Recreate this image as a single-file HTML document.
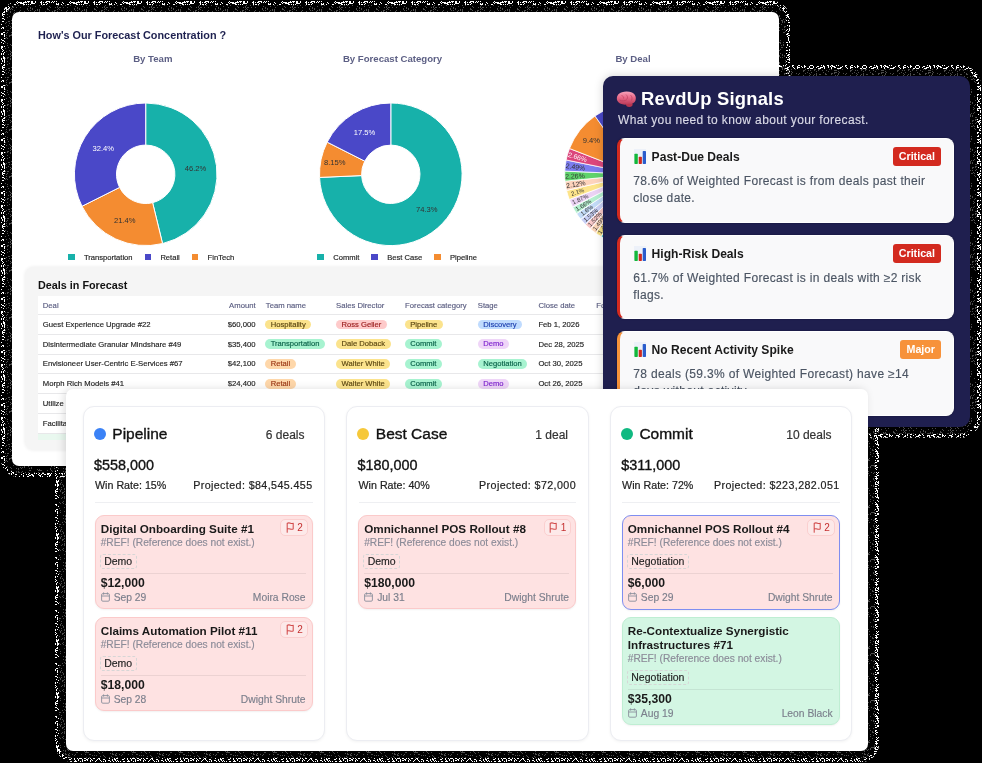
<!DOCTYPE html>
<html><head><meta charset="utf-8"><style>
*{box-sizing:border-box;margin:0;padding:0}
body{width:982px;height:763px;background:#000;position:relative;overflow:hidden;font-family:"Liberation Sans",sans-serif;color:#1f2937}
#c1{position:absolute;left:12px;top:12px;width:767px;height:454px;background:#fff;border-radius:7px;overflow:hidden}
.h1{position:absolute;left:26px;top:17.3px;font-size:10.85px;font-weight:bold;color:#1e2150;letter-spacing:0;white-space:nowrap}
.ctitle{position:absolute;top:41px;transform:translateX(-50%);font-size:9.6px;font-weight:bold;color:#5c5f84;white-space:nowrap}
.leg{position:absolute;top:240px;height:10px;display:flex;align-items:center;font-size:7.6px;color:#222;white-space:nowrap}
.leg i{display:inline-block;width:6.5px;height:6.5px;margin-right:9.3px}
.leg span{margin-right:12px}
#tsec{position:absolute;left:12.5px;top:255px;width:740px;height:183px;background:#f5f5f5;border-radius:9px;box-shadow:0 0 3px 0.5px rgba(0,0,0,0.05)}
.h2{position:absolute;left:13.5px;top:11.6px;font-size:10.8px;font-weight:bold;color:#111;white-space:nowrap}
.tbl{position:absolute;left:13.5px;top:29px;width:720px;height:143.5px;background:#fff;overflow:hidden}
.th,.tr{position:absolute;left:0;width:100%;height:19.8px;border-bottom:0.8px solid #e8e8ea}
.th{height:19px;color:#5a5d80}
.c{position:absolute;top:0;height:100%;display:flex;align-items:center;font-size:7.7px;white-space:nowrap;color:#222}
.th .c{color:#5a5d80}
.amt{justify-content:flex-end}
.pill{display:inline-block;height:9.6px;line-height:9.6px;padding:0 5.5px;border-radius:5px;font-size:7.6px}
#sig{position:absolute;left:603px;top:76px;width:367px;height:350.8px;background:#1f1f4f;border-radius:10px;box-shadow:0 0 10px rgba(0,0,0,0.18)}
.sh{position:absolute;left:38px;top:12px;font-size:18.4px;font-weight:bold;color:#fff;white-space:nowrap;letter-spacing:0.2px}
.ss{position:absolute;left:15px;top:37px;font-size:12px;color:#d9d9e6;white-space:nowrap;letter-spacing:0.38px}
.sc{position:absolute;left:14px;width:337px;background:#f9f9fa;border-radius:8px;border:1px solid #fff;border-left:3.5px solid;box-shadow:0 0 1.5px rgba(0,0,20,0.5)}
.st{position:absolute;left:13.3px;top:10.8px;display:flex;align-items:center;font-size:12.1px;font-weight:bold;color:#1a1a1a;white-space:nowrap}
.st .ico{margin-right:5.3px;margin-left:0.5px;position:relative;top:-1px}
.badge{position:absolute;right:12px;top:8.4px;height:19px;line-height:19px;padding:0 6px;border-radius:3px;color:#fff;font-size:10.7px;font-weight:bold}
.sb{position:absolute;left:13.3px;top:34px;width:300px;font-size:12px;line-height:16.7px;color:#4b5563;letter-spacing:0.33px}
#kan{position:absolute;left:66px;top:389px;width:802px;height:362px;background:#fff;border-radius:7px;box-shadow:-2px 0 8px rgba(0,0,0,0.13)}
.col{position:absolute;top:16.6px;width:242.5px;height:335px;background:#fff;border:1px solid #ecedf2;border-radius:11px;box-shadow:0 1px 3px rgba(0,0,0,0.05)}
.dot{position:absolute;left:10.1px;top:21.4px;width:12px;height:12px;border-radius:50%}
.cn{position:absolute;left:28.8px;top:18.8px;font-size:15.5px;color:#111;white-space:nowrap}
.cc{position:absolute;right:19.5px;top:21px;font-size:12px;color:#333;white-space:nowrap}
.ct{position:absolute;left:10.6px;top:50.7px;font-size:14.4px;color:#111;white-space:nowrap;font-weight:500}
.cw{position:absolute;left:11.5px;right:11.5px;top:72.2px;display:flex;justify-content:space-between;font-size:10.7px;color:#222;white-space:nowrap}
.cl{position:absolute;left:11.5px;right:11.5px;top:95px;height:1px;background:#eeeff2}
.deal{position:absolute;left:11.2px;right:11.5px;border:1px solid;border-radius:9px;box-shadow:0 1px 2px rgba(0,0,0,0.06);padding:5.6px 6px 0 5px}
.dt{width:175px;font-size:11.7px;font-weight:bold;color:#1a1a1a;line-height:14px}
.flag{position:absolute;right:3.8px;top:3px;height:16.6px;padding:0 4px 0 4.5px;border:1px solid #fbcfcf;border-radius:5px;background:#fde9e9;display:flex;align-items:center;font-size:10px;color:#c53030}
.dref{font-size:10.2px;color:#8b8b98;white-space:nowrap;line-height:13px;margin-top:0.5px}
.tag{display:block;width:fit-content;margin-top:5px;margin-left:-1px;height:15px;line-height:13px;padding:0 3.5px;border:1px dashed #d6d6d6;border-radius:3px;font-size:10.5px;color:#222}
.dline{height:1px;background:rgba(0,0,0,0.07);margin-top:3.6px}
.damt{font-size:12.2px;font-weight:bold;color:#1a1a1a;line-height:15px;margin-top:1.7px}
.dfoot{display:flex;justify-content:space-between;font-size:10.3px;color:#7b7f8c;white-space:nowrap;line-height:13px;margin-top:0.5px}
.cw span+span{letter-spacing:0.4px}
.cn,.ct{-webkit-text-stroke:0.35px currentColor}
.cw,.cc{-webkit-text-stroke:0.2px currentColor}
#c1,#sig,#kan{will-change:transform}
.sb,.ss,.dref,.dfoot,.c,.leg,.tag{-webkit-text-stroke:0.15px currentColor}

</style></head><body>
<svg width="982" height="763" style="position:absolute;left:0;top:0"><defs><pattern id="pa" width="53" height="53" patternUnits="userSpaceOnUse"><path d="M1 0h1v1h-1zM3 0h1v1h-1zM6 0h1v1h-1zM8 0h1v1h-1zM10 0h1v1h-1zM11 0h1v1h-1zM14 0h1v1h-1zM15 0h1v1h-1zM21 0h1v1h-1zM24 0h1v1h-1zM25 0h1v1h-1zM28 0h1v1h-1zM33 0h1v1h-1zM34 0h1v1h-1zM35 0h1v1h-1zM44 0h1v1h-1zM51 0h1v1h-1zM1 1h1v1h-1zM3 1h1v1h-1zM17 1h1v1h-1zM25 1h1v1h-1zM27 1h1v1h-1zM28 1h1v1h-1zM29 1h1v1h-1zM31 1h1v1h-1zM32 1h1v1h-1zM35 1h1v1h-1zM41 1h1v1h-1zM46 1h1v1h-1zM47 1h1v1h-1zM48 1h1v1h-1zM49 1h1v1h-1zM52 1h1v1h-1zM0 2h1v1h-1zM9 2h1v1h-1zM16 2h1v1h-1zM18 2h1v1h-1zM19 2h1v1h-1zM20 2h1v1h-1zM21 2h1v1h-1zM23 2h1v1h-1zM24 2h1v1h-1zM25 2h1v1h-1zM26 2h1v1h-1zM28 2h1v1h-1zM31 2h1v1h-1zM32 2h1v1h-1zM35 2h1v1h-1zM40 2h1v1h-1zM41 2h1v1h-1zM43 2h1v1h-1zM45 2h1v1h-1zM46 2h1v1h-1zM49 2h1v1h-1zM51 2h1v1h-1zM3 3h1v1h-1zM5 3h1v1h-1zM10 3h1v1h-1zM17 3h1v1h-1zM20 3h1v1h-1zM21 3h1v1h-1zM22 3h1v1h-1zM23 3h1v1h-1zM31 3h1v1h-1zM32 3h1v1h-1zM33 3h1v1h-1zM34 3h1v1h-1zM41 3h1v1h-1zM47 3h1v1h-1zM3 4h1v1h-1zM4 4h1v1h-1zM5 4h1v1h-1zM8 4h1v1h-1zM14 4h1v1h-1zM15 4h1v1h-1zM23 4h1v1h-1zM24 4h1v1h-1zM26 4h1v1h-1zM28 4h1v1h-1zM30 4h1v1h-1zM41 4h1v1h-1zM43 4h1v1h-1zM44 4h1v1h-1zM46 4h1v1h-1zM1 5h1v1h-1zM3 5h1v1h-1zM4 5h1v1h-1zM22 5h1v1h-1zM26 5h1v1h-1zM27 5h1v1h-1zM29 5h1v1h-1zM30 5h1v1h-1zM31 5h1v1h-1zM35 5h1v1h-1zM38 5h1v1h-1zM41 5h1v1h-1zM47 5h1v1h-1zM51 5h1v1h-1zM1 6h1v1h-1zM4 6h1v1h-1zM8 6h1v1h-1zM12 6h1v1h-1zM13 6h1v1h-1zM14 6h1v1h-1zM16 6h1v1h-1zM17 6h1v1h-1zM21 6h1v1h-1zM22 6h1v1h-1zM26 6h1v1h-1zM27 6h1v1h-1zM30 6h1v1h-1zM34 6h1v1h-1zM36 6h1v1h-1zM42 6h1v1h-1zM43 6h1v1h-1zM45 6h1v1h-1zM46 6h1v1h-1zM47 6h1v1h-1zM48 6h1v1h-1zM49 6h1v1h-1zM2 7h1v1h-1zM4 7h1v1h-1zM5 7h1v1h-1zM6 7h1v1h-1zM9 7h1v1h-1zM12 7h1v1h-1zM27 7h1v1h-1zM28 7h1v1h-1zM29 7h1v1h-1zM31 7h1v1h-1zM32 7h1v1h-1zM33 7h1v1h-1zM38 7h1v1h-1zM41 7h1v1h-1zM43 7h1v1h-1zM47 7h1v1h-1zM51 7h1v1h-1zM2 8h1v1h-1zM4 8h1v1h-1zM5 8h1v1h-1zM6 8h1v1h-1zM8 8h1v1h-1zM9 8h1v1h-1zM11 8h1v1h-1zM21 8h1v1h-1zM24 8h1v1h-1zM30 8h1v1h-1zM40 8h1v1h-1zM41 8h1v1h-1zM42 8h1v1h-1zM44 8h1v1h-1zM51 8h1v1h-1zM4 9h1v1h-1zM6 9h1v1h-1zM7 9h1v1h-1zM8 9h1v1h-1zM10 9h1v1h-1zM20 9h1v1h-1zM21 9h1v1h-1zM22 9h1v1h-1zM26 9h1v1h-1zM27 9h1v1h-1zM28 9h1v1h-1zM36 9h1v1h-1zM38 9h1v1h-1zM41 9h1v1h-1zM46 9h1v1h-1zM47 9h1v1h-1zM49 9h1v1h-1zM51 9h1v1h-1zM1 10h1v1h-1zM6 10h1v1h-1zM9 10h1v1h-1zM10 10h1v1h-1zM14 10h1v1h-1zM18 10h1v1h-1zM21 10h1v1h-1zM32 10h1v1h-1zM33 10h1v1h-1zM34 10h1v1h-1zM38 10h1v1h-1zM39 10h1v1h-1zM41 10h1v1h-1zM51 10h1v1h-1zM4 11h1v1h-1zM6 11h1v1h-1zM12 11h1v1h-1zM17 11h1v1h-1zM18 11h1v1h-1zM19 11h1v1h-1zM22 11h1v1h-1zM26 11h1v1h-1zM27 11h1v1h-1zM28 11h1v1h-1zM30 11h1v1h-1zM31 11h1v1h-1zM32 11h1v1h-1zM41 11h1v1h-1zM42 11h1v1h-1zM44 11h1v1h-1zM48 11h1v1h-1zM49 11h1v1h-1zM50 11h1v1h-1zM3 12h1v1h-1zM4 12h1v1h-1zM9 12h1v1h-1zM15 12h1v1h-1zM16 12h1v1h-1zM17 12h1v1h-1zM26 12h1v1h-1zM28 12h1v1h-1zM32 12h1v1h-1zM33 12h1v1h-1zM36 12h1v1h-1zM37 12h1v1h-1zM41 12h1v1h-1zM43 12h1v1h-1zM50 12h1v1h-1zM51 12h1v1h-1zM2 13h1v1h-1zM6 13h1v1h-1zM9 13h1v1h-1zM10 13h1v1h-1zM14 13h1v1h-1zM18 13h1v1h-1zM22 13h1v1h-1zM23 13h1v1h-1zM28 13h1v1h-1zM29 13h1v1h-1zM33 13h1v1h-1zM35 13h1v1h-1zM37 13h1v1h-1zM38 13h1v1h-1zM39 13h1v1h-1zM47 13h1v1h-1zM50 13h1v1h-1zM2 14h1v1h-1zM3 14h1v1h-1zM4 14h1v1h-1zM7 14h1v1h-1zM9 14h1v1h-1zM14 14h1v1h-1zM18 14h1v1h-1zM21 14h1v1h-1zM25 14h1v1h-1zM26 14h1v1h-1zM27 14h1v1h-1zM29 14h1v1h-1zM33 14h1v1h-1zM36 14h1v1h-1zM39 14h1v1h-1zM40 14h1v1h-1zM45 14h1v1h-1zM46 14h1v1h-1zM51 14h1v1h-1zM2 15h1v1h-1zM12 15h1v1h-1zM13 15h1v1h-1zM15 15h1v1h-1zM16 15h1v1h-1zM17 15h1v1h-1zM23 15h1v1h-1zM24 15h1v1h-1zM25 15h1v1h-1zM29 15h1v1h-1zM36 15h1v1h-1zM42 15h1v1h-1zM43 15h1v1h-1zM44 15h1v1h-1zM45 15h1v1h-1zM52 15h1v1h-1zM3 16h1v1h-1zM8 16h1v1h-1zM10 16h1v1h-1zM11 16h1v1h-1zM18 16h1v1h-1zM21 16h1v1h-1zM24 16h1v1h-1zM26 16h1v1h-1zM27 16h1v1h-1zM28 16h1v1h-1zM31 16h1v1h-1zM32 16h1v1h-1zM35 16h1v1h-1zM37 16h1v1h-1zM40 16h1v1h-1zM41 16h1v1h-1zM45 16h1v1h-1zM46 16h1v1h-1zM6 17h1v1h-1zM8 17h1v1h-1zM9 17h1v1h-1zM16 17h1v1h-1zM17 17h1v1h-1zM21 17h1v1h-1zM25 17h1v1h-1zM29 17h1v1h-1zM33 17h1v1h-1zM34 17h1v1h-1zM38 17h1v1h-1zM44 17h1v1h-1zM46 17h1v1h-1zM50 17h1v1h-1zM51 17h1v1h-1zM2 18h1v1h-1zM3 18h1v1h-1zM6 18h1v1h-1zM9 18h1v1h-1zM11 18h1v1h-1zM22 18h1v1h-1zM25 18h1v1h-1zM29 18h1v1h-1zM31 18h1v1h-1zM32 18h1v1h-1zM34 18h1v1h-1zM37 18h1v1h-1zM39 18h1v1h-1zM43 18h1v1h-1zM47 18h1v1h-1zM52 18h1v1h-1zM4 19h1v1h-1zM7 19h1v1h-1zM10 19h1v1h-1zM12 19h1v1h-1zM14 19h1v1h-1zM17 19h1v1h-1zM18 19h1v1h-1zM21 19h1v1h-1zM22 19h1v1h-1zM23 19h1v1h-1zM27 19h1v1h-1zM29 19h1v1h-1zM37 19h1v1h-1zM42 19h1v1h-1zM48 19h1v1h-1zM50 19h1v1h-1zM52 19h1v1h-1zM5 20h1v1h-1zM6 20h1v1h-1zM7 20h1v1h-1zM12 20h1v1h-1zM13 20h1v1h-1zM15 20h1v1h-1zM16 20h1v1h-1zM18 20h1v1h-1zM20 20h1v1h-1zM23 20h1v1h-1zM26 20h1v1h-1zM28 20h1v1h-1zM29 20h1v1h-1zM30 20h1v1h-1zM35 20h1v1h-1zM36 20h1v1h-1zM44 20h1v1h-1zM46 20h1v1h-1zM49 20h1v1h-1zM50 20h1v1h-1zM52 20h1v1h-1zM2 21h1v1h-1zM3 21h1v1h-1zM8 21h1v1h-1zM11 21h1v1h-1zM15 21h1v1h-1zM21 21h1v1h-1zM22 21h1v1h-1zM23 21h1v1h-1zM24 21h1v1h-1zM30 21h1v1h-1zM35 21h1v1h-1zM38 21h1v1h-1zM40 21h1v1h-1zM41 21h1v1h-1zM42 21h1v1h-1zM49 21h1v1h-1zM10 22h1v1h-1zM12 22h1v1h-1zM14 22h1v1h-1zM15 22h1v1h-1zM16 22h1v1h-1zM19 22h1v1h-1zM20 22h1v1h-1zM21 22h1v1h-1zM26 22h1v1h-1zM32 22h1v1h-1zM36 22h1v1h-1zM37 22h1v1h-1zM38 22h1v1h-1zM39 22h1v1h-1zM46 22h1v1h-1zM47 22h1v1h-1zM49 22h1v1h-1zM52 22h1v1h-1zM0 23h1v1h-1zM9 23h1v1h-1zM16 23h1v1h-1zM18 23h1v1h-1zM20 23h1v1h-1zM21 23h1v1h-1zM22 23h1v1h-1zM25 23h1v1h-1zM29 23h1v1h-1zM33 23h1v1h-1zM36 23h1v1h-1zM39 23h1v1h-1zM41 23h1v1h-1zM50 23h1v1h-1zM52 23h1v1h-1zM0 24h1v1h-1zM1 24h1v1h-1zM6 24h1v1h-1zM14 24h1v1h-1zM18 24h1v1h-1zM22 24h1v1h-1zM25 24h1v1h-1zM26 24h1v1h-1zM30 24h1v1h-1zM31 24h1v1h-1zM32 24h1v1h-1zM35 24h1v1h-1zM37 24h1v1h-1zM40 24h1v1h-1zM42 24h1v1h-1zM48 24h1v1h-1zM50 24h1v1h-1zM51 24h1v1h-1zM0 25h1v1h-1zM7 25h1v1h-1zM16 25h1v1h-1zM27 25h1v1h-1zM32 25h1v1h-1zM39 25h1v1h-1zM45 25h1v1h-1zM47 25h1v1h-1zM51 25h1v1h-1zM8 26h1v1h-1zM12 26h1v1h-1zM15 26h1v1h-1zM16 26h1v1h-1zM18 26h1v1h-1zM23 26h1v1h-1zM24 26h1v1h-1zM28 26h1v1h-1zM31 26h1v1h-1zM32 26h1v1h-1zM38 26h1v1h-1zM47 26h1v1h-1zM51 26h1v1h-1zM0 27h1v1h-1zM2 27h1v1h-1zM3 27h1v1h-1zM6 27h1v1h-1zM15 27h1v1h-1zM19 27h1v1h-1zM22 27h1v1h-1zM23 27h1v1h-1zM26 27h1v1h-1zM27 27h1v1h-1zM28 27h1v1h-1zM29 27h1v1h-1zM32 27h1v1h-1zM35 27h1v1h-1zM43 27h1v1h-1zM50 27h1v1h-1zM51 27h1v1h-1zM52 27h1v1h-1zM1 28h1v1h-1zM3 28h1v1h-1zM8 28h1v1h-1zM17 28h1v1h-1zM20 28h1v1h-1zM29 28h1v1h-1zM38 28h1v1h-1zM47 28h1v1h-1zM5 29h1v1h-1zM9 29h1v1h-1zM11 29h1v1h-1zM12 29h1v1h-1zM24 29h1v1h-1zM28 29h1v1h-1zM29 29h1v1h-1zM30 29h1v1h-1zM38 29h1v1h-1zM45 29h1v1h-1zM47 29h1v1h-1zM48 29h1v1h-1zM0 30h1v1h-1zM7 30h1v1h-1zM9 30h1v1h-1zM10 30h1v1h-1zM11 30h1v1h-1zM12 30h1v1h-1zM14 30h1v1h-1zM16 30h1v1h-1zM18 30h1v1h-1zM19 30h1v1h-1zM21 30h1v1h-1zM23 30h1v1h-1zM24 30h1v1h-1zM29 30h1v1h-1zM34 30h1v1h-1zM37 30h1v1h-1zM38 30h1v1h-1zM41 30h1v1h-1zM44 30h1v1h-1zM47 30h1v1h-1zM52 30h1v1h-1zM11 31h1v1h-1zM29 31h1v1h-1zM30 31h1v1h-1zM35 31h1v1h-1zM40 31h1v1h-1zM46 31h1v1h-1zM49 31h1v1h-1zM52 31h1v1h-1zM3 32h1v1h-1zM4 32h1v1h-1zM8 32h1v1h-1zM11 32h1v1h-1zM18 32h1v1h-1zM19 32h1v1h-1zM20 32h1v1h-1zM26 32h1v1h-1zM27 32h1v1h-1zM30 32h1v1h-1zM33 32h1v1h-1zM37 32h1v1h-1zM38 32h1v1h-1zM43 32h1v1h-1zM50 32h1v1h-1zM51 32h1v1h-1zM52 32h1v1h-1zM0 33h1v1h-1zM1 33h1v1h-1zM2 33h1v1h-1zM8 33h1v1h-1zM11 33h1v1h-1zM13 33h1v1h-1zM20 33h1v1h-1zM23 33h1v1h-1zM24 33h1v1h-1zM25 33h1v1h-1zM30 33h1v1h-1zM35 33h1v1h-1zM36 33h1v1h-1zM43 33h1v1h-1zM45 33h1v1h-1zM46 33h1v1h-1zM48 33h1v1h-1zM49 33h1v1h-1zM50 33h1v1h-1zM52 33h1v1h-1zM1 34h1v1h-1zM2 34h1v1h-1zM4 34h1v1h-1zM8 34h1v1h-1zM10 34h1v1h-1zM19 34h1v1h-1zM20 34h1v1h-1zM21 34h1v1h-1zM24 34h1v1h-1zM26 34h1v1h-1zM28 34h1v1h-1zM29 34h1v1h-1zM32 34h1v1h-1zM36 34h1v1h-1zM38 34h1v1h-1zM41 34h1v1h-1zM44 34h1v1h-1zM45 34h1v1h-1zM50 34h1v1h-1zM0 35h1v1h-1zM4 35h1v1h-1zM7 35h1v1h-1zM8 35h1v1h-1zM11 35h1v1h-1zM14 35h1v1h-1zM16 35h1v1h-1zM17 35h1v1h-1zM20 35h1v1h-1zM21 35h1v1h-1zM22 35h1v1h-1zM25 35h1v1h-1zM26 35h1v1h-1zM31 35h1v1h-1zM32 35h1v1h-1zM36 35h1v1h-1zM42 35h1v1h-1zM46 35h1v1h-1zM47 35h1v1h-1zM50 35h1v1h-1zM0 36h1v1h-1zM4 36h1v1h-1zM12 36h1v1h-1zM19 36h1v1h-1zM21 36h1v1h-1zM22 36h1v1h-1zM23 36h1v1h-1zM24 36h1v1h-1zM26 36h1v1h-1zM27 36h1v1h-1zM29 36h1v1h-1zM30 36h1v1h-1zM35 36h1v1h-1zM38 36h1v1h-1zM39 36h1v1h-1zM42 36h1v1h-1zM43 36h1v1h-1zM45 36h1v1h-1zM48 36h1v1h-1zM51 36h1v1h-1zM9 37h1v1h-1zM17 37h1v1h-1zM21 37h1v1h-1zM26 37h1v1h-1zM29 37h1v1h-1zM30 37h1v1h-1zM38 37h1v1h-1zM40 37h1v1h-1zM42 37h1v1h-1zM46 37h1v1h-1zM0 38h1v1h-1zM4 38h1v1h-1zM7 38h1v1h-1zM8 38h1v1h-1zM9 38h1v1h-1zM13 38h1v1h-1zM14 38h1v1h-1zM20 38h1v1h-1zM27 38h1v1h-1zM28 38h1v1h-1zM32 38h1v1h-1zM35 38h1v1h-1zM42 38h1v1h-1zM43 38h1v1h-1zM46 38h1v1h-1zM50 38h1v1h-1zM51 38h1v1h-1zM1 39h1v1h-1zM16 39h1v1h-1zM18 39h1v1h-1zM41 39h1v1h-1zM43 39h1v1h-1zM46 39h1v1h-1zM52 39h1v1h-1zM2 40h1v1h-1zM3 40h1v1h-1zM20 40h1v1h-1zM34 40h1v1h-1zM39 40h1v1h-1zM46 40h1v1h-1zM50 40h1v1h-1zM51 40h1v1h-1zM4 41h1v1h-1zM9 41h1v1h-1zM14 41h1v1h-1zM17 41h1v1h-1zM23 41h1v1h-1zM24 41h1v1h-1zM26 41h1v1h-1zM27 41h1v1h-1zM28 41h1v1h-1zM33 41h1v1h-1zM34 41h1v1h-1zM39 41h1v1h-1zM40 41h1v1h-1zM41 41h1v1h-1zM47 41h1v1h-1zM0 42h1v1h-1zM1 42h1v1h-1zM12 42h1v1h-1zM15 42h1v1h-1zM20 42h1v1h-1zM21 42h1v1h-1zM23 42h1v1h-1zM27 42h1v1h-1zM31 42h1v1h-1zM32 42h1v1h-1zM35 42h1v1h-1zM36 42h1v1h-1zM38 42h1v1h-1zM39 42h1v1h-1zM42 42h1v1h-1zM44 42h1v1h-1zM45 42h1v1h-1zM47 42h1v1h-1zM51 42h1v1h-1zM3 43h1v1h-1zM6 43h1v1h-1zM8 43h1v1h-1zM10 43h1v1h-1zM14 43h1v1h-1zM16 43h1v1h-1zM18 43h1v1h-1zM21 43h1v1h-1zM28 43h1v1h-1zM29 43h1v1h-1zM33 43h1v1h-1zM38 43h1v1h-1zM40 43h1v1h-1zM41 43h1v1h-1zM49 43h1v1h-1zM50 43h1v1h-1zM51 43h1v1h-1zM5 44h1v1h-1zM9 44h1v1h-1zM10 44h1v1h-1zM14 44h1v1h-1zM15 44h1v1h-1zM16 44h1v1h-1zM17 44h1v1h-1zM20 44h1v1h-1zM23 44h1v1h-1zM27 44h1v1h-1zM31 44h1v1h-1zM35 44h1v1h-1zM38 44h1v1h-1zM39 44h1v1h-1zM40 44h1v1h-1zM42 44h1v1h-1zM45 44h1v1h-1zM51 44h1v1h-1zM7 45h1v1h-1zM12 45h1v1h-1zM14 45h1v1h-1zM17 45h1v1h-1zM22 45h1v1h-1zM23 45h1v1h-1zM26 45h1v1h-1zM28 45h1v1h-1zM31 45h1v1h-1zM32 45h1v1h-1zM39 45h1v1h-1zM45 45h1v1h-1zM51 45h1v1h-1zM1 46h1v1h-1zM2 46h1v1h-1zM4 46h1v1h-1zM7 46h1v1h-1zM11 46h1v1h-1zM12 46h1v1h-1zM13 46h1v1h-1zM16 46h1v1h-1zM20 46h1v1h-1zM23 46h1v1h-1zM25 46h1v1h-1zM31 46h1v1h-1zM32 46h1v1h-1zM33 46h1v1h-1zM34 46h1v1h-1zM38 46h1v1h-1zM42 46h1v1h-1zM47 46h1v1h-1zM1 47h1v1h-1zM2 47h1v1h-1zM11 47h1v1h-1zM14 47h1v1h-1zM16 47h1v1h-1zM19 47h1v1h-1zM20 47h1v1h-1zM22 47h1v1h-1zM24 47h1v1h-1zM38 47h1v1h-1zM43 47h1v1h-1zM44 47h1v1h-1zM1 48h1v1h-1zM12 48h1v1h-1zM13 48h1v1h-1zM16 48h1v1h-1zM24 48h1v1h-1zM25 48h1v1h-1zM28 48h1v1h-1zM30 48h1v1h-1zM31 48h1v1h-1zM33 48h1v1h-1zM36 48h1v1h-1zM38 48h1v1h-1zM41 48h1v1h-1zM43 48h1v1h-1zM49 48h1v1h-1zM52 48h1v1h-1zM2 49h1v1h-1zM6 49h1v1h-1zM8 49h1v1h-1zM9 49h1v1h-1zM11 49h1v1h-1zM13 49h1v1h-1zM23 49h1v1h-1zM29 49h1v1h-1zM34 49h1v1h-1zM36 49h1v1h-1zM39 49h1v1h-1zM42 49h1v1h-1zM43 49h1v1h-1zM47 49h1v1h-1zM48 49h1v1h-1zM49 49h1v1h-1zM51 49h1v1h-1zM3 50h1v1h-1zM9 50h1v1h-1zM11 50h1v1h-1zM15 50h1v1h-1zM16 50h1v1h-1zM21 50h1v1h-1zM26 50h1v1h-1zM28 50h1v1h-1zM31 50h1v1h-1zM32 50h1v1h-1zM38 50h1v1h-1zM41 50h1v1h-1zM44 50h1v1h-1zM45 50h1v1h-1zM47 50h1v1h-1zM48 50h1v1h-1zM50 50h1v1h-1zM2 51h1v1h-1zM23 51h1v1h-1zM29 51h1v1h-1zM30 51h1v1h-1zM32 51h1v1h-1zM33 51h1v1h-1zM39 51h1v1h-1zM40 51h1v1h-1zM49 51h1v1h-1zM50 51h1v1h-1zM4 52h1v1h-1zM7 52h1v1h-1zM8 52h1v1h-1zM9 52h1v1h-1zM10 52h1v1h-1zM11 52h1v1h-1zM13 52h1v1h-1zM15 52h1v1h-1zM19 52h1v1h-1zM23 52h1v1h-1zM27 52h1v1h-1zM28 52h1v1h-1zM33 52h1v1h-1zM40 52h1v1h-1zM42 52h1v1h-1zM47 52h1v1h-1zM49 52h1v1h-1z" fill="#fff"/></pattern><pattern id="pb" width="47" height="47" patternUnits="userSpaceOnUse"><path d="M0 0h1v1h-1zM4 0h1v1h-1zM8 0h1v1h-1zM29 0h1v1h-1zM30 0h1v1h-1zM38 0h1v1h-1zM39 0h1v1h-1zM40 0h1v1h-1zM41 0h1v1h-1zM5 1h1v1h-1zM16 1h1v1h-1zM18 1h1v1h-1zM22 1h1v1h-1zM18 2h1v1h-1zM19 2h1v1h-1zM21 2h1v1h-1zM25 2h1v1h-1zM28 2h1v1h-1zM34 2h1v1h-1zM38 2h1v1h-1zM42 2h1v1h-1zM43 2h1v1h-1zM0 3h1v1h-1zM2 3h1v1h-1zM9 3h1v1h-1zM21 3h1v1h-1zM22 3h1v1h-1zM27 3h1v1h-1zM45 3h1v1h-1zM6 4h1v1h-1zM10 4h1v1h-1zM17 4h1v1h-1zM11 5h1v1h-1zM15 5h1v1h-1zM18 5h1v1h-1zM23 5h1v1h-1zM39 5h1v1h-1zM42 5h1v1h-1zM2 6h1v1h-1zM10 6h1v1h-1zM28 6h1v1h-1zM35 6h1v1h-1zM3 7h1v1h-1zM8 7h1v1h-1zM10 7h1v1h-1zM12 7h1v1h-1zM13 7h1v1h-1zM16 7h1v1h-1zM20 7h1v1h-1zM30 7h1v1h-1zM40 7h1v1h-1zM0 8h1v1h-1zM11 8h1v1h-1zM27 8h1v1h-1zM30 8h1v1h-1zM32 8h1v1h-1zM0 9h1v1h-1zM1 9h1v1h-1zM10 9h1v1h-1zM12 9h1v1h-1zM27 9h1v1h-1zM32 9h1v1h-1zM37 9h1v1h-1zM39 9h1v1h-1zM2 10h1v1h-1zM7 10h1v1h-1zM8 10h1v1h-1zM14 10h1v1h-1zM20 10h1v1h-1zM28 10h1v1h-1zM30 10h1v1h-1zM35 10h1v1h-1zM37 10h1v1h-1zM39 10h1v1h-1zM5 11h1v1h-1zM7 11h1v1h-1zM10 11h1v1h-1zM19 11h1v1h-1zM24 11h1v1h-1zM34 11h1v1h-1zM39 11h1v1h-1zM45 11h1v1h-1zM2 12h1v1h-1zM10 12h1v1h-1zM14 12h1v1h-1zM37 12h1v1h-1zM44 12h1v1h-1zM13 13h1v1h-1zM33 13h1v1h-1zM40 13h1v1h-1zM42 13h1v1h-1zM43 13h1v1h-1zM7 14h1v1h-1zM13 14h1v1h-1zM15 14h1v1h-1zM34 14h1v1h-1zM41 14h1v1h-1zM2 15h1v1h-1zM16 15h1v1h-1zM25 15h1v1h-1zM27 15h1v1h-1zM33 15h1v1h-1zM9 16h1v1h-1zM16 16h1v1h-1zM27 16h1v1h-1zM7 17h1v1h-1zM14 17h1v1h-1zM20 17h1v1h-1zM40 17h1v1h-1zM42 17h1v1h-1zM17 18h1v1h-1zM22 18h1v1h-1zM28 18h1v1h-1zM34 18h1v1h-1zM37 18h1v1h-1zM39 18h1v1h-1zM41 18h1v1h-1zM45 18h1v1h-1zM0 19h1v1h-1zM12 19h1v1h-1zM14 19h1v1h-1zM17 19h1v1h-1zM31 19h1v1h-1zM33 19h1v1h-1zM11 20h1v1h-1zM13 20h1v1h-1zM23 20h1v1h-1zM29 20h1v1h-1zM30 20h1v1h-1zM39 20h1v1h-1zM40 20h1v1h-1zM45 20h1v1h-1zM8 21h1v1h-1zM9 21h1v1h-1zM13 21h1v1h-1zM17 21h1v1h-1zM20 21h1v1h-1zM30 21h1v1h-1zM32 21h1v1h-1zM39 21h1v1h-1zM41 21h1v1h-1zM6 22h1v1h-1zM15 22h1v1h-1zM16 22h1v1h-1zM19 22h1v1h-1zM20 22h1v1h-1zM30 22h1v1h-1zM32 22h1v1h-1zM39 22h1v1h-1zM43 22h1v1h-1zM4 23h1v1h-1zM5 23h1v1h-1zM9 23h1v1h-1zM11 23h1v1h-1zM15 23h1v1h-1zM19 23h1v1h-1zM23 23h1v1h-1zM27 23h1v1h-1zM35 23h1v1h-1zM36 23h1v1h-1zM37 23h1v1h-1zM4 24h1v1h-1zM17 24h1v1h-1zM29 24h1v1h-1zM39 24h1v1h-1zM8 25h1v1h-1zM12 25h1v1h-1zM24 25h1v1h-1zM35 25h1v1h-1zM36 25h1v1h-1zM37 25h1v1h-1zM40 25h1v1h-1zM0 26h1v1h-1zM6 26h1v1h-1zM10 26h1v1h-1zM17 26h1v1h-1zM26 26h1v1h-1zM32 26h1v1h-1zM33 26h1v1h-1zM35 26h1v1h-1zM39 26h1v1h-1zM44 26h1v1h-1zM11 27h1v1h-1zM15 27h1v1h-1zM17 27h1v1h-1zM20 27h1v1h-1zM21 27h1v1h-1zM26 27h1v1h-1zM27 27h1v1h-1zM32 27h1v1h-1zM39 27h1v1h-1zM46 27h1v1h-1zM4 28h1v1h-1zM10 28h1v1h-1zM14 28h1v1h-1zM17 28h1v1h-1zM36 28h1v1h-1zM38 28h1v1h-1zM0 29h1v1h-1zM20 29h1v1h-1zM24 29h1v1h-1zM30 29h1v1h-1zM32 29h1v1h-1zM35 29h1v1h-1zM39 29h1v1h-1zM5 30h1v1h-1zM7 30h1v1h-1zM8 30h1v1h-1zM19 30h1v1h-1zM27 30h1v1h-1zM37 30h1v1h-1zM43 30h1v1h-1zM16 31h1v1h-1zM20 31h1v1h-1zM21 31h1v1h-1zM24 31h1v1h-1zM33 31h1v1h-1zM7 32h1v1h-1zM11 32h1v1h-1zM12 32h1v1h-1zM15 32h1v1h-1zM20 32h1v1h-1zM21 32h1v1h-1zM31 32h1v1h-1zM32 32h1v1h-1zM34 32h1v1h-1zM45 32h1v1h-1zM6 33h1v1h-1zM13 33h1v1h-1zM16 33h1v1h-1zM19 33h1v1h-1zM26 33h1v1h-1zM1 34h1v1h-1zM3 34h1v1h-1zM4 34h1v1h-1zM11 34h1v1h-1zM18 34h1v1h-1zM19 34h1v1h-1zM34 34h1v1h-1zM38 34h1v1h-1zM41 34h1v1h-1zM45 34h1v1h-1zM2 35h1v1h-1zM4 35h1v1h-1zM6 35h1v1h-1zM9 35h1v1h-1zM10 35h1v1h-1zM11 35h1v1h-1zM20 35h1v1h-1zM23 35h1v1h-1zM35 35h1v1h-1zM38 35h1v1h-1zM9 36h1v1h-1zM22 36h1v1h-1zM40 36h1v1h-1zM1 37h1v1h-1zM6 37h1v1h-1zM17 37h1v1h-1zM19 37h1v1h-1zM22 37h1v1h-1zM23 37h1v1h-1zM39 37h1v1h-1zM5 38h1v1h-1zM7 38h1v1h-1zM12 38h1v1h-1zM1 39h1v1h-1zM19 39h1v1h-1zM20 39h1v1h-1zM39 39h1v1h-1zM42 39h1v1h-1zM43 39h1v1h-1zM13 40h1v1h-1zM28 40h1v1h-1zM40 40h1v1h-1zM17 41h1v1h-1zM20 41h1v1h-1zM46 41h1v1h-1zM1 42h1v1h-1zM5 42h1v1h-1zM13 42h1v1h-1zM20 42h1v1h-1zM25 42h1v1h-1zM26 42h1v1h-1zM27 42h1v1h-1zM28 42h1v1h-1zM31 42h1v1h-1zM4 43h1v1h-1zM7 43h1v1h-1zM24 43h1v1h-1zM28 43h1v1h-1zM10 44h1v1h-1zM20 44h1v1h-1zM22 44h1v1h-1zM24 44h1v1h-1zM31 44h1v1h-1zM3 45h1v1h-1zM7 45h1v1h-1zM11 45h1v1h-1zM16 45h1v1h-1zM18 45h1v1h-1zM21 45h1v1h-1zM29 45h1v1h-1zM31 45h1v1h-1zM3 46h1v1h-1zM18 46h1v1h-1zM37 46h1v1h-1zM39 46h1v1h-1z" fill="#505050"/></pattern></defs><rect x="3.0" y="3.0" width="785.0" height="472.0" rx="16.0" fill="none" stroke="url(#pa)" stroke-width="4.0"/><rect x="594.0" y="67.0" width="385.0" height="368.8" rx="19.0" fill="none" stroke="url(#pa)" stroke-width="4.0"/><rect x="57.0" y="380.0" width="820.0" height="380.0" rx="16.0" fill="none" stroke="url(#pa)" stroke-width="4.0"/><rect x="8.5" y="8.5" width="774.0" height="461.0" rx="10.5" fill="none" stroke="url(#pb)" stroke-width="7"/><rect x="599.5" y="72.5" width="374.0" height="357.8" rx="13.5" fill="none" stroke="url(#pb)" stroke-width="7"/><rect x="62.5" y="385.5" width="809.0" height="369.0" rx="10.5" fill="none" stroke="url(#pb)" stroke-width="7"/><rect x="12" y="12" width="767" height="454" rx="7" fill="#000"/><rect x="603" y="76" width="367" height="350.8" rx="10" fill="#000"/><rect x="66" y="389" width="802" height="362" rx="7" fill="#000"/></svg>
<div id="c1">
<div class="h1">How's Our Forecast Concentration ?</div>
<div class="ctitle" style="left:140.8px">By Team</div>
<div class="ctitle" style="left:380.5px">By Forecast Category</div>
<div class="ctitle" style="left:621px">By Deal</div>
<svg width="767" height="260" style="position:absolute;left:0;top:0" font-family="Liberation Sans, sans-serif"><path d="M133.70,91.00 A71.3,71.3 0 0 1 150.56,231.58 L140.61,190.67 A29.2,29.2 0 0 0 133.70,133.10 Z" fill="#17b1aa" stroke="#fff" stroke-width="1"/>
<path d="M150.56,231.58 A71.3,71.3 0 0 1 69.97,194.27 L107.60,175.39 A29.2,29.2 0 0 0 140.61,190.67 Z" fill="#f48c31" stroke="#fff" stroke-width="1"/>
<path d="M69.97,194.27 A71.3,71.3 0 0 1 133.70,91.00 L133.70,133.10 A29.2,29.2 0 0 0 107.60,175.39 Z" fill="#4a48c8" stroke="#fff" stroke-width="1"/><path d="M378.80,91.00 A71.3,71.3 0 1 1 307.57,165.43 L349.63,163.58 A29.2,29.2 0 1 0 378.80,133.10 Z" fill="#17b1aa" stroke="#fff" stroke-width="1"/>
<path d="M307.57,165.43 A71.3,71.3 0 0 1 315.17,130.13 L352.74,149.13 A29.2,29.2 0 0 0 349.63,163.58 Z" fill="#f48c31" stroke="#fff" stroke-width="1"/>
<path d="M315.17,130.13 A71.3,71.3 0 0 1 378.80,91.00 L378.80,133.10 A29.2,29.2 0 0 0 352.74,149.13 Z" fill="#4a48c8" stroke="#fff" stroke-width="1"/><path d="M624.00,91.00 A71.3,71.3 0 1 1 589.22,224.54 L609.75,187.79 A29.2,29.2 0 1 0 624.00,133.10 Z" fill="#17b1aa" stroke="#fff" stroke-width="0.8"/>
<path d="M589.22,224.54 A71.3,71.3 0 0 1 583.72,221.13 L607.50,186.39 A29.2,29.2 0 0 0 609.75,187.79 Z" fill="#f6df86" stroke="#fff" stroke-width="0.8"/>
<path d="M583.72,221.13 A71.3,71.3 0 0 1 578.36,217.08 L605.31,184.73 A29.2,29.2 0 0 0 607.50,186.39 Z" fill="#fbd5b9" stroke="#fff" stroke-width="0.8"/>
<path d="M578.36,217.08 A71.3,71.3 0 0 1 573.32,212.45 L603.24,182.84 A29.2,29.2 0 0 0 605.31,184.73 Z" fill="#f8c8c8" stroke="#fff" stroke-width="0.8"/>
<path d="M573.32,212.45 A71.3,71.3 0 0 1 568.75,207.36 L601.37,180.76 A29.2,29.2 0 0 0 603.24,182.84 Z" fill="#c9d0f6" stroke="#fff" stroke-width="0.8"/>
<path d="M568.75,207.36 A71.3,71.3 0 0 1 564.48,201.55 L599.62,178.37 A29.2,29.2 0 0 0 601.37,180.76 Z" fill="#c3dbf7" stroke="#fff" stroke-width="0.8"/>
<path d="M564.48,201.55 A71.3,71.3 0 0 1 560.70,195.11 L598.08,175.74 A29.2,29.2 0 0 0 599.62,178.37 Z" fill="#b4efcf" stroke="#fff" stroke-width="0.8"/>
<path d="M560.70,195.11 A71.3,71.3 0 0 1 557.30,187.50 L596.69,172.62 A29.2,29.2 0 0 0 598.08,175.74 Z" fill="#ebd2f4" stroke="#fff" stroke-width="0.8"/>
<path d="M557.30,187.50 A71.3,71.3 0 0 1 554.56,178.46 L595.56,168.92 A29.2,29.2 0 0 0 596.69,172.62 Z" fill="#fde48a" stroke="#fff" stroke-width="0.8"/>
<path d="M554.56,178.46 A71.3,71.3 0 0 1 553.03,169.13 L594.93,165.10 A29.2,29.2 0 0 0 595.56,168.92 Z" fill="#fdd3bc" stroke="#fff" stroke-width="0.8"/>
<path d="M553.03,169.13 A71.3,71.3 0 0 1 552.77,159.07 L594.83,160.98 A29.2,29.2 0 0 0 594.93,165.10 Z" fill="#5fd26b" stroke="#fff" stroke-width="0.8"/>
<path d="M552.77,159.07 A71.3,71.3 0 0 1 554.16,147.96 L595.40,156.43 A29.2,29.2 0 0 0 594.83,160.98 Z" fill="#7b7cef" stroke="#fff" stroke-width="0.8"/>
<path d="M554.16,147.96 A71.3,71.3 0 0 1 557.53,136.52 L596.78,151.74 A29.2,29.2 0 0 0 595.40,156.43 Z" fill="#dc467c" stroke="#fff" stroke-width="0.8"/>
<path d="M557.53,136.52 A71.3,71.3 0 0 1 583.00,103.97 L607.21,138.41 A29.2,29.2 0 0 0 596.78,151.74 Z" fill="#f48c31" stroke="#fff" stroke-width="0.8"/>
<path d="M583.00,103.97 A71.3,71.3 0 0 1 624.00,91.00 L624.00,133.10 A29.2,29.2 0 0 0 607.21,138.41 Z" fill="#4a48c8" stroke="#fff" stroke-width="0.8"/><text x="183.6" y="156.6" fill="#333" font-size="7.6" text-anchor="middle" dominant-baseline="central">46.2%</text><text x="91.3" y="136.3" fill="#fff" font-size="7.6" text-anchor="middle" dominant-baseline="central">32.4%</text><text x="112.7" y="208.0" fill="#333" font-size="7.6" text-anchor="middle" dominant-baseline="central">21.4%</text><text x="352.5" y="120.3" fill="#fff" font-size="7.6" text-anchor="middle" dominant-baseline="central">17.5%</text><text x="322.7" y="150.5" fill="#333" font-size="7.6" text-anchor="middle" dominant-baseline="central">8.15%</text><text x="414.8" y="197.3" fill="#333" font-size="7.6" text-anchor="middle" dominant-baseline="central">74.3%</text><text x="579.4" y="128.9" fill="#333" font-size="7.6" text-anchor="middle" dominant-baseline="central">9.4%</text><text x="565.5" y="145.1" fill="#fff" font-size="6.9" text-anchor="middle" dominant-baseline="central" transform="rotate(16.4 565.5 145.1)">2.66%</text><text x="563.5" y="154.8" fill="#333" font-size="6.9" text-anchor="middle" dominant-baseline="central" transform="rotate(7.1 563.5 154.8)">2.49%</text><text x="563.0" y="163.9" fill="#333" font-size="6.9" text-anchor="middle" dominant-baseline="central" transform="rotate(-1.5 563.0 163.9)">2.26%</text><text x="563.8" y="172.2" fill="#333" font-size="6.9" text-anchor="middle" dominant-baseline="central" transform="rotate(-9.3 563.8 172.2)">2.12%</text><text x="565.6" y="180.0" fill="#333" font-size="6.0" text-anchor="middle" dominant-baseline="central" transform="rotate(-16.9 565.6 180.0)">2.1%</text><text x="568.3" y="187.2" fill="#333" font-size="6.0" text-anchor="middle" dominant-baseline="central" transform="rotate(-24.1 568.3 187.2)">1.87%</text><text x="571.4" y="193.2" fill="#333" font-size="6.0" text-anchor="middle" dominant-baseline="central" transform="rotate(-30.4 571.4 193.2)">1.66%</text><text x="574.8" y="198.4" fill="#333" font-size="6.0" text-anchor="middle" dominant-baseline="central" transform="rotate(-36.3 574.8 198.4)">1.6%</text><text x="578.7" y="203.1" fill="#333" font-size="6.0" text-anchor="middle" dominant-baseline="central" transform="rotate(-42.0 578.7 203.1)">1.53%</text><text x="582.8" y="207.3" fill="#333" font-size="6.0" text-anchor="middle" dominant-baseline="central" transform="rotate(-47.5 582.8 207.3)">1.52%</text><text x="587.2" y="211.0" fill="#333" font-size="6.0" text-anchor="middle" dominant-baseline="central" transform="rotate(-52.9 587.2 211.0)">1.49%</text><text x="591.9" y="214.1" fill="#333" font-size="6.0" text-anchor="middle" dominant-baseline="central" transform="rotate(-58.2 591.9 214.1)">1.48%</text></svg>
<div class="leg" style="left:56.099999999999994px"><i style="background:#17b1aa"></i><span>Transportation</span><i style="background:#4a48c8"></i><span>Retail</span><i style="background:#f48c31"></i><span>FinTech</span></div>
<div class="leg" style="left:305.4px"><i style="background:#17b1aa"></i><span>Commit</span><i style="background:#4a48c8"></i><span>Best Case</span><i style="background:#f48c31"></i><span>Pipeline</span></div>
<div id="tsec"><div class="h2">Deals in Forecast</div><div class="tbl"><div class="th" style="top:0"><span class="c" style="left:4.799999999999997px">Deal</span><span class="c amt" style="left:162px;width:55.6px">Amount</span><span class="c" style="left:227.8px">Team name</span><span class="c" style="left:298.1px">Sales Director</span><span class="c" style="left:367.1px">Forecast category</span><span class="c" style="left:439.8px">Stage</span><span class="c" style="left:500.4px">Close date</span><span class="c" style="left:558.3px">Forecast</span></div><div class="tr" style="top:19.0px;background:#fff"><span class="c" style="left:4.799999999999997px">Guest Experience Upgrade #22</span><span class="c" style="right:0px;left:auto;width:auto"></span><span class="c amt" style="left:162px;width:55.6px">$60,000</span><span class="c" style="left:227.2px"><span class="pill" style="background:#fbe38d;color:#5b4611">Hospitality</span></span><span class="c" style="left:298.1px"><span class="pill" style="background:#fecaca;color:#991b1b">Ross Geller</span></span><span class="c" style="left:366.7px"><span class="pill" style="background:#fbe38d;color:#5b4611">Pipeline</span></span><span class="c" style="left:439.8px"><span class="pill" style="background:#bfdbfe;color:#1e40af">Discovery</span></span><span class="c" style="left:500.4px">Feb 1, 2026</span></div><div class="tr" style="top:38.8px;background:#fff"><span class="c" style="left:4.799999999999997px">Disintermediate Granular Mindshare #49</span><span class="c" style="right:0px;left:auto;width:auto"></span><span class="c amt" style="left:162px;width:55.6px">$35,400</span><span class="c" style="left:227.2px"><span class="pill" style="background:#a7f3d0;color:#065f46">Transportation</span></span><span class="c" style="left:298.1px"><span class="pill" style="background:#fbe38d;color:#5b4611">Dale Doback</span></span><span class="c" style="left:366.7px"><span class="pill" style="background:#a7f3d0;color:#065f46">Commit</span></span><span class="c" style="left:439.8px"><span class="pill" style="background:#efd5f8;color:#7e22ce">Demo</span></span><span class="c" style="left:500.4px">Dec 28, 2025</span></div><div class="tr" style="top:58.6px;background:#fff"><span class="c" style="left:4.799999999999997px">Envisioneer User-Centric E-Services #67</span><span class="c" style="right:0px;left:auto;width:auto"></span><span class="c amt" style="left:162px;width:55.6px">$42,100</span><span class="c" style="left:227.2px"><span class="pill" style="background:#fed7aa;color:#9a3412">Retail</span></span><span class="c" style="left:298.1px"><span class="pill" style="background:#fbe38d;color:#5b4611">Walter White</span></span><span class="c" style="left:366.7px"><span class="pill" style="background:#a7f3d0;color:#065f46">Commit</span></span><span class="c" style="left:439.8px"><span class="pill" style="background:#a7f3d0;color:#065f46">Negotiation</span></span><span class="c" style="left:500.4px">Oct 30, 2025</span></div><div class="tr" style="top:78.4px;background:#fff"><span class="c" style="left:4.799999999999997px">Morph Rich Models #41</span><span class="c" style="right:0px;left:auto;width:auto"></span><span class="c amt" style="left:162px;width:55.6px">$24,400</span><span class="c" style="left:227.2px"><span class="pill" style="background:#fed7aa;color:#9a3412">Retail</span></span><span class="c" style="left:298.1px"><span class="pill" style="background:#fbe38d;color:#5b4611">Walter White</span></span><span class="c" style="left:366.7px"><span class="pill" style="background:#a7f3d0;color:#065f46">Commit</span></span><span class="c" style="left:439.8px"><span class="pill" style="background:#efd5f8;color:#7e22ce">Demo</span></span><span class="c" style="left:500.4px">Oct 26, 2025</span></div><div class="tr" style="top:98.2px;background:#fff"><span class="c" style="left:4.799999999999997px">Utilize Magnetic Paradigms #12</span><span class="c" style="right:0px;left:auto;width:auto"></span><span class="c amt" style="left:162px;width:55.6px">$18,200</span><span class="c" style="left:227.2px"><span class="pill" style="background:#fed7aa;color:#9a3412">Retail</span></span><span class="c" style="left:298.1px"><span class="pill" style="background:#fbe38d;color:#5b4611">Walter White</span></span><span class="c" style="left:366.7px"><span class="pill" style="background:#a7f3d0;color:#065f46">Commit</span></span><span class="c" style="left:439.8px"><span class="pill" style="background:#efd5f8;color:#7e22ce">Demo</span></span><span class="c" style="left:500.4px">Oct 20, 2025</span></div><div class="tr" style="top:118.0px;background:#fff"><span class="c" style="left:4.799999999999997px">Facilitate Robust Synergies #33</span><span class="c" style="right:0px;left:auto;width:auto"></span><span class="c amt" style="left:162px;width:55.6px">$15,000</span><span class="c" style="left:227.2px"><span class="pill" style="background:#fed7aa;color:#9a3412">Retail</span></span><span class="c" style="left:298.1px"><span class="pill" style="background:#fbe38d;color:#5b4611">Walter White</span></span><span class="c" style="left:366.7px"><span class="pill" style="background:#a7f3d0;color:#065f46">Commit</span></span><span class="c" style="left:439.8px"><span class="pill" style="background:#efd5f8;color:#7e22ce">Demo</span></span><span class="c" style="left:500.4px">Oct 18, 2025</span></div><div class="tr" style="top:137.8px;background:#e9f8ef"></div></div></div>
</div>
<div id="sig"><svg width="21" height="17" viewBox="0 0 21 17" style="position:absolute;left:13.4px;top:14.8px"><defs><linearGradient id="bg1" x1="0" y1="0" x2="0" y2="1"><stop offset="0" stop-color="#f6a3bb"/><stop offset="0.45" stop-color="#e86a8a"/><stop offset="1" stop-color="#b93a58"/></linearGradient></defs><ellipse cx="13.3" cy="13.6" rx="3.3" ry="2.3" fill="#b8364f"/><path d="M1.2 9.5 C0 6 2 2 6 1.2 C9 0.2 13 0.3 16 1.5 C19.5 3 20.5 6.5 19.5 9.5 C18.6 12 16 13.2 13 12.8 C11 13.6 8.5 14 6.5 13.3 C4 12.8 2 11.5 1.2 9.5 Z" fill="url(#bg1)"/><path d="M3.5 9 C6 10.5 9 10 11 8.6 M10 3.5 C11.5 5 12 6.5 11 8 M14.5 4 C16 5.5 16.5 7.5 15.5 9.5 M5.5 4.5 C7 5 8 6 7.5 7.5" stroke="#b63b5b" stroke-width="0.8" fill="none" opacity="0.75"/></svg><div class="sh">RevdUp Signals</div><div class="ss">What you need to know about your forecast.</div><div class="sc" style="top:62px;height:85px;border-left-color:#d32a1f"><div class="st"><svg class="ico" width="12.5" height="15" viewBox="0 0 12.5 15"><rect x="0" y="0" width="12.5" height="15" fill="#edf1f9"/><rect x="0.4" y="4.8" width="3.4" height="10.2" rx="0.7" fill="#12b83a"/><rect x="4.7" y="7.7" width="3.2" height="7.3" rx="0.7" fill="#cf2a1f"/><rect x="8.7" y="2" width="3.3" height="13" rx="0.7" fill="#2a5ccc"/></svg><span>Past-Due Deals</span></div><div class="badge" style="background:#d32a1f">Critical</div><div class="sb">78.6% of Weighted Forecast is from deals past their close date.</div></div><div class="sc" style="top:159px;height:84px;border-left-color:#d32a1f"><div class="st"><svg class="ico" width="12.5" height="15" viewBox="0 0 12.5 15"><rect x="0" y="0" width="12.5" height="15" fill="#edf1f9"/><rect x="0.4" y="4.8" width="3.4" height="10.2" rx="0.7" fill="#12b83a"/><rect x="4.7" y="7.7" width="3.2" height="7.3" rx="0.7" fill="#cf2a1f"/><rect x="8.7" y="2" width="3.3" height="13" rx="0.7" fill="#2a5ccc"/></svg><span>High-Risk Deals</span></div><div class="badge" style="background:#d32a1f">Critical</div><div class="sb">61.7% of Weighted Forecast is in deals with ≥2 risk flags.</div></div><div class="sc" style="top:255px;height:85px;border-left-color:#f7923a"><div class="st"><svg class="ico" width="12.5" height="15" viewBox="0 0 12.5 15"><rect x="0" y="0" width="12.5" height="15" fill="#edf1f9"/><rect x="0.4" y="4.8" width="3.4" height="10.2" rx="0.7" fill="#12b83a"/><rect x="4.7" y="7.7" width="3.2" height="7.3" rx="0.7" fill="#cf2a1f"/><rect x="8.7" y="2" width="3.3" height="13" rx="0.7" fill="#2a5ccc"/></svg><span>No Recent Activity Spike</span></div><div class="badge" style="background:#f7923a">Major</div><div class="sb">78 deals (59.3% of Weighted Forecast) have ≥14 days without activity.</div></div></div>
<div id="kan"><div class="col" style="left:16.5px"><div class="dot" style="background:#3b82f6"></div><div class="cn">Pipeline</div><div class="cc">6 deals</div><div class="ct">$558,000</div><div class="cw"><span>Win Rate: 15%</span><span>Projected: $84,545.455</span></div><div class="cl"></div><div class="deal" style="top:108.6px;height:94.2px;background:#fee2e2;border-color:#fbcaca;"><div class="flag"><svg width="8" height="11" viewBox="0 0 8 11" style="margin-right:3.5px"><path d="M1.2 10.2 V1.2 Q3 0.6 4.5 1.2 T7.2 1.2 V7 Q5.5 7.6 4.2 7 T1.2 7" fill="none" stroke="#d24b4b" stroke-width="1.05" stroke-linejoin="round" stroke-linecap="round"/></svg>2</div><div class="dt">Digital Onboarding Suite #1</div><div class="dref">#REF! (Reference does not exist.)</div><div class="tag">Demo</div><div class="dline"></div><div class="damt">$12,000</div><div class="dfoot"><span><svg width="9" height="10" viewBox="0 0 9 10" style="margin-right:4px;vertical-align:-1px"><rect x="0.6" y="1.6" width="7.8" height="7.6" rx="1.2" fill="none" stroke="#8a8f9c" stroke-width="0.9"/><path d="M0.6 4 H8.4 M2.6 0.4 V2.6 M6.4 0.4 V2.6" stroke="#8a8f9c" stroke-width="0.9"/></svg>Sep 29</span><span>Moira Rose</span></div></div><div class="deal" style="top:210.6px;height:94.1px;background:#fee2e2;border-color:#fbcaca;"><div class="flag"><svg width="8" height="11" viewBox="0 0 8 11" style="margin-right:3.5px"><path d="M1.2 10.2 V1.2 Q3 0.6 4.5 1.2 T7.2 1.2 V7 Q5.5 7.6 4.2 7 T1.2 7" fill="none" stroke="#d24b4b" stroke-width="1.05" stroke-linejoin="round" stroke-linecap="round"/></svg>2</div><div class="dt">Claims Automation Pilot #11</div><div class="dref">#REF! (Reference does not exist.)</div><div class="tag">Demo</div><div class="dline"></div><div class="damt">$18,000</div><div class="dfoot"><span><svg width="9" height="10" viewBox="0 0 9 10" style="margin-right:4px;vertical-align:-1px"><rect x="0.6" y="1.6" width="7.8" height="7.6" rx="1.2" fill="none" stroke="#8a8f9c" stroke-width="0.9"/><path d="M0.6 4 H8.4 M2.6 0.4 V2.6 M6.4 0.4 V2.6" stroke="#8a8f9c" stroke-width="0.9"/></svg>Sep 28</span><span>Dwight Shrute</span></div></div></div><div class="col" style="left:280px"><div class="dot" style="background:#f6c83a"></div><div class="cn">Best Case</div><div class="cc">1 deal</div><div class="ct">$180,000</div><div class="cw"><span>Win Rate: 40%</span><span>Projected: $72,000</span></div><div class="cl"></div><div class="deal" style="top:108.6px;height:94.2px;background:#fee2e2;border-color:#fbcaca;"><div class="flag"><svg width="8" height="11" viewBox="0 0 8 11" style="margin-right:3.5px"><path d="M1.2 10.2 V1.2 Q3 0.6 4.5 1.2 T7.2 1.2 V7 Q5.5 7.6 4.2 7 T1.2 7" fill="none" stroke="#d24b4b" stroke-width="1.05" stroke-linejoin="round" stroke-linecap="round"/></svg>1</div><div class="dt">Omnichannel POS Rollout #8</div><div class="dref">#REF! (Reference does not exist.)</div><div class="tag">Demo</div><div class="dline"></div><div class="damt">$180,000</div><div class="dfoot"><span><svg width="9" height="10" viewBox="0 0 9 10" style="margin-right:4px;vertical-align:-1px"><rect x="0.6" y="1.6" width="7.8" height="7.6" rx="1.2" fill="none" stroke="#8a8f9c" stroke-width="0.9"/><path d="M0.6 4 H8.4 M2.6 0.4 V2.6 M6.4 0.4 V2.6" stroke="#8a8f9c" stroke-width="0.9"/></svg>Jul 31</span><span>Dwight Shrute</span></div></div></div><div class="col" style="left:543.6px"><div class="dot" style="background:#10b981"></div><div class="cn">Commit</div><div class="cc">10 deals</div><div class="ct">$311,000</div><div class="cw"><span>Win Rate: 72%</span><span>Projected: $223,282.051</span></div><div class="cl"></div><div class="deal" style="top:108.6px;height:94.6px;background:#fee2e2;border-color:#7f8ef0;border-width:1.3px;"><div class="flag"><svg width="8" height="11" viewBox="0 0 8 11" style="margin-right:3.5px"><path d="M1.2 10.2 V1.2 Q3 0.6 4.5 1.2 T7.2 1.2 V7 Q5.5 7.6 4.2 7 T1.2 7" fill="none" stroke="#d24b4b" stroke-width="1.05" stroke-linejoin="round" stroke-linecap="round"/></svg>2</div><div class="dt">Omnichannel POS Rollout #4</div><div class="dref">#REF! (Reference does not exist.)</div><div class="tag">Negotiation</div><div class="dline"></div><div class="damt">$6,000</div><div class="dfoot"><span><svg width="9" height="10" viewBox="0 0 9 10" style="margin-right:4px;vertical-align:-1px"><rect x="0.6" y="1.6" width="7.8" height="7.6" rx="1.2" fill="none" stroke="#8a8f9c" stroke-width="0.9"/><path d="M0.6 4 H8.4 M2.6 0.4 V2.6 M6.4 0.4 V2.6" stroke="#8a8f9c" stroke-width="0.9"/></svg>Sep 29</span><span>Dwight Shrute</span></div></div><div class="deal" style="top:210.6px;height:108.0px;background:#d3f6e3;border-color:#bfeed3;"><div class="dt">Re-Contextualize Synergistic Infrastructures #71</div><div class="dref">#REF! (Reference does not exist.)</div><div class="tag">Negotiation</div><div class="dline"></div><div class="damt">$35,300</div><div class="dfoot"><span><svg width="9" height="10" viewBox="0 0 9 10" style="margin-right:4px;vertical-align:-1px"><rect x="0.6" y="1.6" width="7.8" height="7.6" rx="1.2" fill="none" stroke="#8a8f9c" stroke-width="0.9"/><path d="M0.6 4 H8.4 M2.6 0.4 V2.6 M6.4 0.4 V2.6" stroke="#8a8f9c" stroke-width="0.9"/></svg>Aug 19</span><span>Leon Black</span></div></div></div></div>
</body></html>
